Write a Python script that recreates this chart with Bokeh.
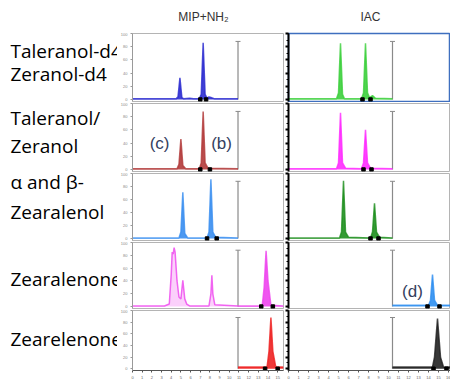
from bokeh.plotting import figure
from bokeh.layouts import row, column
from bokeh.models import Range1d, SingleIntervalTicker
from bokeh.core.properties import value
from bokeh.embed import file_html
from bokeh.resources import INLINE

# ---------------- data ----------------
methods = ["MIP+NH\u2082", "IAC"]
analytes = [["Taleranol-d4", "Zeranol-d4"], ["Taleranol/", "Zeranol"],
            ["\u03b1 and \u03b2-", "Zearalenol"], ["Zearalenone"], ["Zearelenone"]]
annotations = ["(c)", "(b)", "(d)"]

# retention time (min) / relative intensity (%)
mip1_t = [0.0, 2.3, 4.5, 4.7, 4.9, 5.1, 5.3, 5.9, 6.3, 6.9, 7.1, 7.3, 7.5, 7.7, 7.9, 8.1, 8.5, 10.9]
mip1_y = [1, 1, 1, 4, 33, 3, 1, 2, 1, 1, 8, 86, 8, 2, 4, 3, 1, 1]
mip1_m = [7.0, 7.6]

mip2_t = [0.0, 4.6, 4.8, 5.0, 5.2, 5.5, 6.9, 7.1, 7.3, 7.5, 7.8, 10.9]
mip2_y = [1, 1, 8, 46, 6, 1, 1, 10, 88, 10, 2, 1]
mip2_m = [7.0, 8.0]

mip3_t = [0.0, 4.8, 5.0, 5.2, 5.4, 5.7, 7.7, 7.9, 8.1, 8.3, 8.6, 10.9]
mip3_y = [1, 1, 10, 71, 8, 1, 1, 10, 91, 10, 2, 1]
mip3_m = [7.7, 8.7]

mip4a_t = [0.0, 3.3, 3.8, 4.0, 4.1, 4.2, 4.3, 4.4, 4.6, 4.8, 5.0, 5.2, 5.4, 5.6, 5.9,
           7.9, 8.1, 8.2, 8.3, 8.5, 10.9]
mip4a_y = [1, 1, 4, 50, 85, 82, 92, 85, 40, 15, 12, 41, 12, 4, 1, 1, 20, 49, 20, 3, 1]
mip4b_t = [10.9, 13.4, 13.6, 13.8, 14.0, 14.3, 15.6]
mip4b_y = [1, 1, 30, 87, 40, 2, 1]
mip4_m = [13.3, 14.5]

mip5_t = [10.9, 13.9, 14.1, 14.3, 14.5, 14.8, 15.6]
mip5_y = [3, 3, 30, 88, 30, 3, 3]
mip5_m = [13.7, 15.0]

iac1_t = [0.0, 4.8, 5.0, 5.2, 5.4, 5.6, 7.3, 7.5, 7.7, 7.9, 8.1, 8.4, 8.7, 10.4]
iac1_y = [1, 1, 10, 85, 8, 1, 1, 10, 85, 10, 3, 6, 2, 1]
iac1_m = [7.4, 8.2]

iac2_t = [0.0, 4.8, 5.0, 5.2, 5.4, 5.7, 7.3, 7.5, 7.7, 7.9, 8.2, 10.4]
iac2_y = [1, 1, 10, 86, 10, 2, 1, 10, 60, 10, 2, 1]
iac2_m = [7.5, 8.3]

iac3_t = [0.0, 5.1, 5.3, 5.5, 5.7, 6.0, 8.2, 8.4, 8.6, 8.8, 9.1, 10.4]
iac3_y = [1, 1, 10, 89, 10, 2, 1, 10, 54, 10, 2, 1]
iac3_m = [8.2, 9.0]

iac4_t = [10.4, 14.0, 14.2, 14.4, 14.6, 14.9, 16.2]
iac4_y = [2, 2, 10, 50, 10, 2, 2]
iac4_m = [13.9, 15.1]

iac5_t = [10.4, 14.4, 14.6, 14.9, 15.2, 15.5, 16.2]
iac5_y = [3, 3, 20, 86, 20, 3, 3]
iac5_m = [14.5, 15.8]

segment_break = [10.9, 10.4]     # time-segment boundary (min) per method
x_end = [15.6, 16.2]

# ---------------- layout / style ----------------
LABEL_W = 117
COL_W = [168, 165]
BORDER_L = [10, 3]
BORDER_R = [2, 0]
HEADER_H = 32
ROW_H = [70, 70, 69, 68, 72]
label_y = [50, 73, 117, 145, 181, 211, 278, 338]
header_x = [7.6, 8.2]

mip_col = ["#2b2bd0", "#b23a3a", "#3a8ef0", "#ee44ee", "#ee2222"]
iac_col = ["#3ccf3c", "#ff2bff", "#1e8f1e", "#2f8ff0", "#222222"]


def make_panel(ci, ri):
    last = ri == 4
    p = figure(width=COL_W[ci], height=ROW_H[ri], output_backend="svg",
               toolbar_location=None, x_range=Range1d(0, x_end[ci]),
               y_range=Range1d(-3, 100), min_border_left=BORDER_L[ci],
               min_border_right=BORDER_R[ci], min_border_top=1,
               min_border_bottom=7 if last else 1)
    p.grid.visible = False
    p.background_fill_color = "white"
    p.border_fill_color = "white"
    p.outline_line_color = "#b4b4b4"
    if ci == 1 and ri == 0:
        p.outline_line_color = "#3f6fbf"
        p.outline_line_width = 1.5
    if last:
        ax = p.xaxis[0]
        ax.ticker = SingleIntervalTicker(interval=1)
        ax.major_label_text_font_size = "4px"
        ax.major_label_text_color = "#666666"
        ax.major_label_standoff = 1
        ax.major_tick_out = 2
        ax.major_tick_in = 0
        ax.minor_tick_line_color = None
        ax.axis_line_color = "#555555"
        ax.major_tick_line_color = "#555555"
    else:
        p.xaxis.visible = False
    ay = p.yaxis[0]
    ay.ticker = SingleIntervalTicker(interval=20, num_minor_ticks=2)
    if ci == 0:
        ay.axis_line_color = "#9a9a9a"
        ay.major_tick_line_color = "#9a9a9a"
        ay.minor_tick_line_color = None
        ay.major_tick_out = 2
        ay.major_tick_in = 0
        ay.major_label_text_font_size = "4px"
        ay.major_label_text_color = "#888888"
        ay.major_label_standoff = 1
    else:
        ay.axis_line_color = "black"
        ay.axis_line_width = 2
        ay.major_tick_line_color = "black"
        ay.major_tick_line_width = 2
        ay.major_tick_out = 3
        ay.major_tick_in = 0
        ay.minor_tick_line_color = "black"
        ay.minor_tick_out = 2
        ay.minor_tick_in = 0
        ay.major_label_text_font_size = "0px"
        ay.major_label_standoff = 0
    # segment boundary
    p.segment(x0=[segment_break[ci]], y0=[0], x1=[segment_break[ci]], y1=[88],
              line_color="#8a8a8a", line_width=1.2)
    p.scatter(x=[segment_break[ci]], y=[88], marker="dash", size=5,
              line_color="#8a8a8a")
    return p


def trace(p, t, y, color, fill_alpha=0.9):
    p.varea(x=t, y1=[0] * len(t), y2=y, fill_color=color, fill_alpha=fill_alpha)
    p.line(t, y, line_color=color, line_width=1.5, line_alpha=0.8)


def marks(p, m):
    p.scatter(x=m, y=[0] * len(m), marker="square", size=3.5, color="black")


panels = [[make_panel(ci, ri) for ri in range(5)] for ci in range(2)]
L, R = panels

trace(L[0], mip1_t, mip1_y, mip_col[0]); marks(L[0], mip1_m)
trace(L[1], mip2_t, mip2_y, mip_col[1]); marks(L[1], mip2_m)
trace(L[2], mip3_t, mip3_y, mip_col[2]); marks(L[2], mip3_m)
trace(L[3], mip4a_t, mip4a_y, mip_col[3], fill_alpha=0.25)
trace(L[3], mip4b_t, mip4b_y, mip_col[3]); marks(L[3], mip4_m)
trace(L[4], mip5_t, mip5_y, mip_col[4]); marks(L[4], mip5_m)

trace(R[0], iac1_t, iac1_y, iac_col[0]); marks(R[0], iac1_m)
trace(R[1], iac2_t, iac2_y, iac_col[1]); marks(R[1], iac2_m)
trace(R[2], iac3_t, iac3_y, iac_col[2]); marks(R[2], iac3_m)
trace(R[3], iac4_t, iac4_y, iac_col[3]); marks(R[3], iac4_m)
trace(R[4], iac5_t, iac5_y, iac_col[4]); marks(R[4], iac5_m)

ann_style = dict(text_font=value("Liberation Sans"), text_font_size="17px",
                 text_color="#34405e", text_align="center", text_baseline="middle")
L[1].text(x=[2.8], y=[40], text=[annotations[0]], **ann_style)
L[1].text(x=[9.2], y=[40], text=[annotations[1]], **ann_style)
R[3].text(x=[12.4], y=[23], text=[annotations[2]], **ann_style)

# headers
headers = []
for ci in range(2):
    h = figure(width=COL_W[ci], height=HEADER_H, output_backend="svg",
               toolbar_location=None, x_range=Range1d(0, x_end[ci]),
               y_range=Range1d(0, 1), min_border_left=BORDER_L[ci],
               min_border_right=BORDER_R[ci], min_border_top=0, min_border_bottom=0)
    h.axis.visible = False
    h.grid.visible = False
    h.outline_line_color = None
    h.text(x=[header_x[ci]], y=[0.47], text=[methods[ci]],
           text_font=value("Liberation Sans"), text_font_size="12px",
           text_color="#333333", text_align="center", text_baseline="middle")
    headers.append(h)

# left labels
TOTAL_H = HEADER_H + sum(ROW_H)
lab = figure(width=LABEL_W, height=TOTAL_H, output_backend="svg",
             toolbar_location=None, x_range=Range1d(0, LABEL_W),
             y_range=Range1d(TOTAL_H, 0), min_border=0)
lab.axis.visible = False
lab.grid.visible = False
lab.outline_line_color = None
lines = [s for grp in analytes for s in grp]
lab.text(x=[10] * len(lines), y=label_y, text=lines,
         text_font=value("Open Sans"), text_font_size="19px",
         text_color="black", text_align="left", text_baseline="middle")

grid = column(row(headers[0], headers[1]),
              *[row(L[ri], R[ri]) for ri in range(5)])
layout = row(lab, grid)

open("out.html", "w").write(file_html(layout, INLINE))
